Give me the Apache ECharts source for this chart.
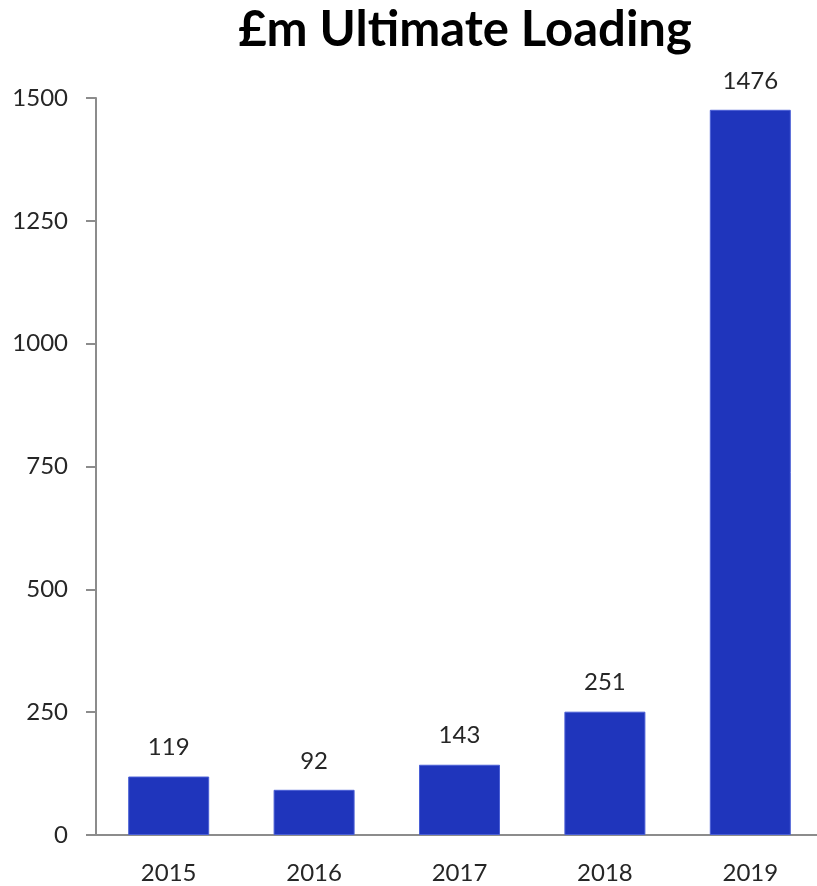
<!DOCTYPE html>
<html>
<head>
<meta charset="utf-8">
<script src="https://cdn.jsdelivr.net/npm/echarts@6/dist/echarts.min.js"></script>
<style>
  html, body { margin: 0; padding: 0; background: #fff; overflow: hidden; }
  /* canvas runs a few pixels past the page so the last category is clipped at the edge */
  #chart { width: 823px; height: 886px; }
</style>
</head>
<body>
<div id="chart"></div>
<script>
// Ultimate loading by year, £m
const years = ['2015', '2016', '2017', '2018', '2019'];
const loading = [119, 92, 143, 251, 1476];
const yTicks = { min: 0, max: 1500, interval: 250 };

const FONT = "Lato, 'Open Sans', sans-serif";

const chart = echarts.init(document.getElementById('chart'), null, { renderer: 'canvas' });
chart.setOption({
  animation: false,
  title: {
    text: '£m Ultimate Loading',
    left: 460,
    top: 1,
    textAlign: 'center',
    textStyle: { fontFamily: FONT, fontWeight: 'bold', fontSize: 49, color: '#000' }
  },
  grid: { left: 96, right: 0, top: 98, bottom: 51, containLabel: false },
  xAxis: {
    type: 'category',
    data: years,
    axisLine: { lineStyle: { color: '#8c8c8c', width: 2 } },
    axisTick: { show: false },
    axisLabel: { margin: 26, fontFamily: FONT, fontSize: 24, color: '#262626' }
  },
  yAxis: {
    type: 'value',
    min: yTicks.min,
    max: yTicks.max,
    interval: yTicks.interval,
    axisLine: { show: true, lineStyle: { color: '#8c8c8c', width: 2 } },
    axisTick: { show: true, length: 10, lineStyle: { color: '#8c8c8c', width: 2 } },
    splitLine: { show: false },
    axisLabel: {
      margin: 28,
      fontFamily: FONT,
      fontSize: 24,
      color: '#262626',
      formatter: v => String(v)
    }
  },
  series: [{
    type: 'bar',
    data: loading,
    barWidth: 81,
    itemStyle: { color: '#1f35bc', borderColor: '#4a5fd6', borderWidth: 1 },
    label: {
      show: true,
      position: 'top',
      distance: 17,
      fontFamily: FONT,
      fontSize: 24,
      color: '#262626'
    }
  }]
});
</script>
</body>
</html>
